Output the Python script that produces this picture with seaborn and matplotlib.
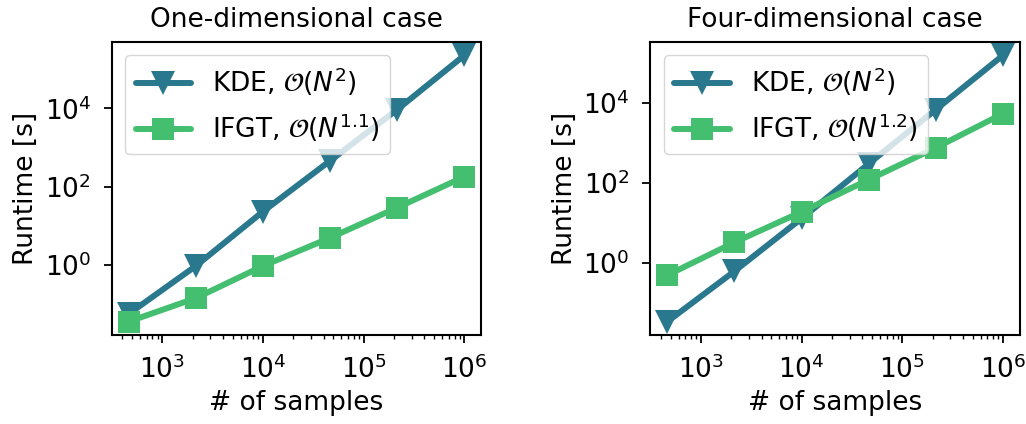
import numpy as np
import pandas as pd
import matplotlib
matplotlib.use("Agg")
import matplotlib.pyplot as plt
from matplotlib.ticker import NullFormatter
import seaborn as sns

# Number of samples (shared by both experiments)
n_samples = [464, 2154, 10000, 46416, 215443, 1000000]

# Runtimes in seconds, one-dimensional case
kde_1d = [0.055, 0.93, 23, 460, 9400, 2.3e5]
ifgt_1d = [0.035, 0.14, 0.93, 4.9, 29, 180]

# Runtimes in seconds, four-dimensional case
kde_4d = [0.035, 0.63, 13, 300, 6700, 1.5e5]
ifgt_4d = [0.5, 3.3, 19, 120, 750, 5300]

titles = ["One-dimensional case", "Four-dimensional case"]
ifgt_labels = [r"IFGT, $\mathcal{O}(N^{1.1})$", r"IFGT, $\mathcal{O}(N^{1.2})$"]
kde_label = r"KDE, $\mathcal{O}(N^2)$"

kde_color = "#2a788e"
ifgt_color = "#44bf70"

sns.set_style("ticks")
plt.rcParams["font.family"] = ["DejaVu Sans"]
plt.rcParams["mathtext.fontset"] = "dejavusans"
plt.rcParams["text.color"] = "black"
plt.rcParams["axes.labelcolor"] = "black"
plt.rcParams["xtick.color"] = "black"
plt.rcParams["ytick.color"] = "black"

FS = 19

fig = plt.figure(figsize=(10.26, 4.24), dpi=100)
ax_left = fig.add_axes([0.109, 0.21, 0.36, 0.691])
ax_right = fig.add_axes([0.634, 0.21, 0.36, 0.691])
axes = [ax_left, ax_right]

for ax, title, kde, ifgt, ilab in zip(axes, titles,
                                       [kde_1d, kde_4d], [ifgt_1d, ifgt_4d],
                                       ifgt_labels):
    df = pd.DataFrame({"N": n_samples, "KDE": kde, "IFGT": ifgt})
    sns.lineplot(data=df, x="N", y="KDE", ax=ax, color=kde_color, lw=4.3,
                 marker="v", markersize=17, markeredgewidth=0, label=kde_label)
    sns.lineplot(data=df, x="N", y="IFGT", ax=ax, color=ifgt_color, lw=4.3,
                 marker="s", markersize=16, markeredgewidth=0, label=ilab)
    ax.set_xscale("log")
    ax.set_yscale("log")
    ax.xaxis.set_minor_formatter(NullFormatter())
    ax.yaxis.set_minor_formatter(NullFormatter())
    ax.set_title(title, fontsize=FS, pad=11)
    ax.set_xlabel("# of samples", fontsize=FS, labelpad=4)
    ax.set_ylabel("Runtime [s]", fontsize=FS, labelpad=4)
    ax.tick_params(labelsize=FS, width=1.3, length=6, pad=9)
    ax.tick_params(which="minor", width=1.0, length=3)
    for s in ax.spines.values():
        s.set_visible(True)
        s.set_linewidth(1.5)
        s.set_color("black")
    ax.legend(loc="upper left", fontsize=FS, handlelength=2.1)

# Resolve the automatic log ticks, then keep only those inside the view
fig.canvas.draw()
for ax in axes:
    lo, hi = ax.get_ylim()
    ax.set_yticks([t for t in ax.get_yticks() if lo <= t <= hi])
    ax.set_ylim(lo, hi)

fig.savefig("out.png", dpi=100)
